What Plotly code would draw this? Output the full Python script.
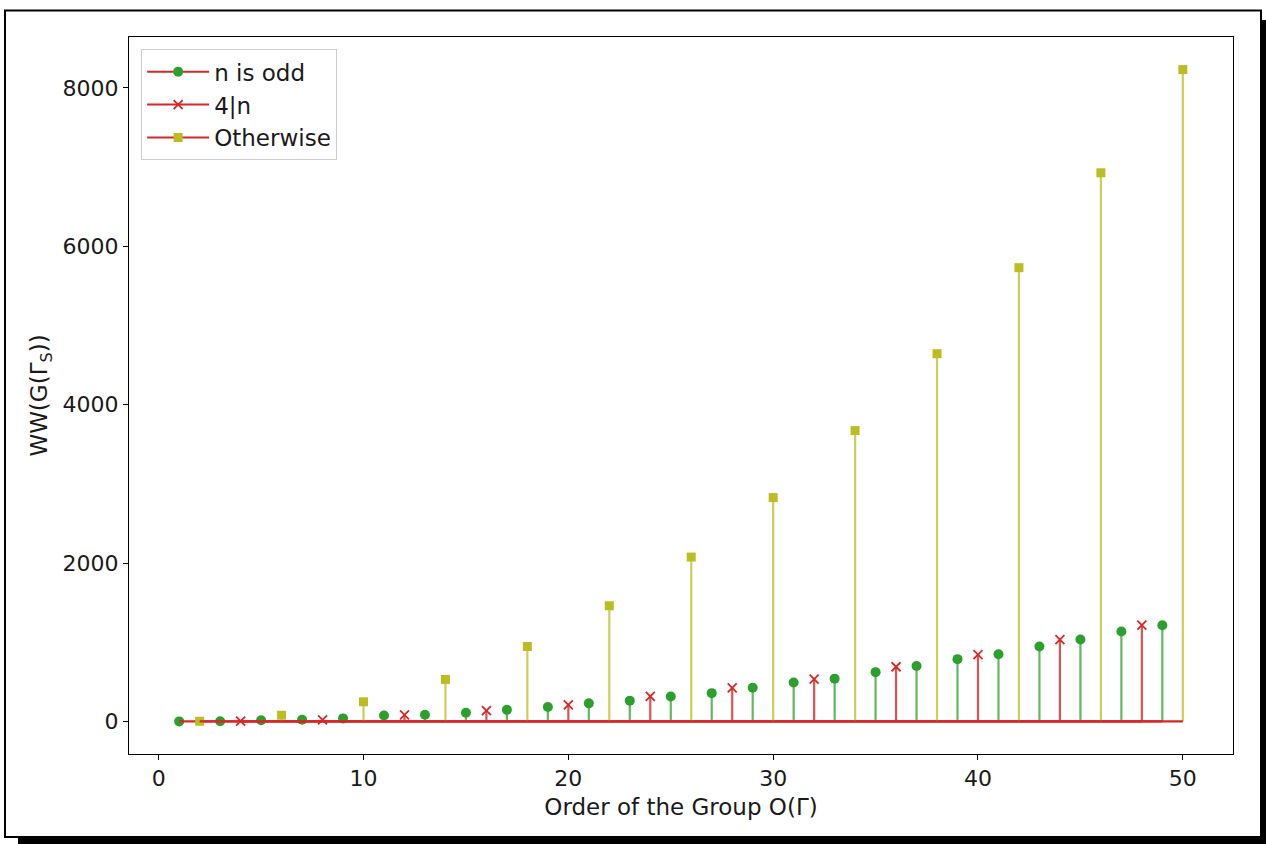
import plotly.graph_objects as go

# ---- data ----
odd_n = [1, 3, 5, 7, 9, 11, 13, 15, 17, 19, 21, 23, 25, 27, 29, 31, 33, 35, 37, 39, 41, 43, 45, 47, 49]
odd_vals = [0, 2, 15, 20, 38, 75, 85, 110, 146, 182, 228, 262, 315, 357, 424, 492, 540, 622, 700, 786, 848, 946, 1034, 1136, 1215]

four_n = [4, 8, 12, 16, 20, 24, 28, 32, 36, 40, 44, 48]
four_vals = [3, 18, 82, 135, 210, 315, 424, 534, 690, 842, 1034, 1215]

other_n = [2, 6, 10, 14, 18, 22, 26, 30, 34, 38, 42, 46, 50]
other_vals = [2, 78, 248, 530, 946, 1460, 2075, 2826, 3672, 4643, 5729, 6927, 8230]

series_names = ["n is odd", "4|n", "Otherwise"]
x_ticks = [0, 10, 20, 30, 40, 50]
y_ticks = [0, 2000, 4000, 6000, 8000]

GREEN = "#2ca02c"
RED = "#d62728"
OLIVE = "#bcbd22"
STEM_GREEN = "rgba(44,160,44,0.75)"
STEM_RED = "rgba(214,39,40,0.8)"
STEM_OLIVE = "rgba(188,189,34,0.75)"
FONT = "DejaVu Sans"

fig = go.Figure()


def add_stem(xs, ys, stem_color, marker):
    sx, sy = [], []
    for x, y in zip(xs, ys):
        sx += [x, x, None]
        sy += [0, y, None]
    fig.add_trace(go.Scatter(x=sx, y=sy, mode="lines", line=dict(color=stem_color, width=2.2),
                             showlegend=False, hoverinfo="skip"))
    fig.add_trace(go.Scatter(x=xs, y=ys, mode="markers", marker=marker, showlegend=False))
    fig.add_trace(go.Scatter(x=[min(xs), max(xs)], y=[0, 0], mode="lines",
                             line=dict(color=RED, width=2.2), showlegend=False, hoverinfo="skip"))


m_odd = dict(symbol="circle", size=10, color=GREEN)
m_four = dict(symbol="x-thin", size=9, color=RED, line=dict(width=1.8, color=RED))
m_other = dict(symbol="square", size=9, color=OLIVE)

add_stem(odd_n, odd_vals, STEM_GREEN, m_odd)
add_stem(four_n, four_vals, STEM_RED, m_four)
add_stem(other_n, other_vals, STEM_OLIVE, m_other)

# legend entries (stem-style icon: red baseline with coloured marker)
for name, mk in zip(series_names, [m_odd, m_four, m_other]):
    fig.add_trace(go.Scatter(x=[None], y=[None], mode="lines+markers", name=name,
                             line=dict(color=RED, width=2), marker=mk))

# ---- layout ----
W, H = 1266, 844
L, R, T, B = 129, 33, 37, 90
pw, ph = W - L - R, H - T - B


def px(x):
    return (x - L) / pw


def py(y):
    return (H - B - y) / ph


shapes = [
    dict(type="rect", xref="paper", yref="paper", x0=px(5), x1=px(1261), y0=py(837), y1=py(10.5),
         line=dict(color="black", width=2), fillcolor="rgba(0,0,0,0)", layer="below"),
    dict(type="rect", xref="paper", yref="paper", x0=px(1261), x1=px(1268), y0=py(846), y1=py(20),
         line=dict(width=0), fillcolor="black"),
    dict(type="rect", xref="paper", yref="paper", x0=px(18), x1=px(1268), y0=py(846), y1=py(837),
         line=dict(width=0), fillcolor="black"),
]

xmin, xmax = 1, 50
ymax = max(other_vals)
xpad = (xmax - xmin) * 0.05
ypad = ymax * 0.05

fig.update_layout(
    width=W, height=H, autosize=False,
    margin=dict(l=L, r=R, t=T, b=B, pad=0),
    paper_bgcolor="white", plot_bgcolor="white",
    font=dict(family=FONT, size=22, color="#1a1a1a"),
    shapes=shapes,
    showlegend=True,
    legend=dict(x=0.011, y=0.983, xanchor="left", yanchor="top",
                bgcolor="white", bordercolor="#cccccc", borderwidth=1,
                font=dict(family=FONT, size=23), itemwidth=62),
    xaxis=dict(range=[xmin - xpad, xmax + xpad], tickvals=x_ticks, showgrid=False, zeroline=False,
               showline=True, linecolor="black", linewidth=1, mirror=True,
               ticks="outside", ticklen=5, tickcolor="black", tickwidth=1,
               tickfont=dict(size=22),
               title=dict(text="Order of the Group O(Γ)", font=dict(size=23), standoff=8)),
    yaxis=dict(range=[-ypad, ymax + ypad], tickvals=y_ticks, showgrid=False, zeroline=False,
               showline=True, linecolor="black", linewidth=1, mirror=True,
               ticks="outside", ticklen=5, tickcolor="black", tickwidth=1,
               tickfont=dict(size=22),
               title=dict(text="WW(G(Γ<sub>S</sub>))", font=dict(size=23), standoff=8)),
)

fig.write_html("out.html", config={"displayModeBar": False},
               post_script="document.body.style.margin='0';document.body.style.padding='0';")
